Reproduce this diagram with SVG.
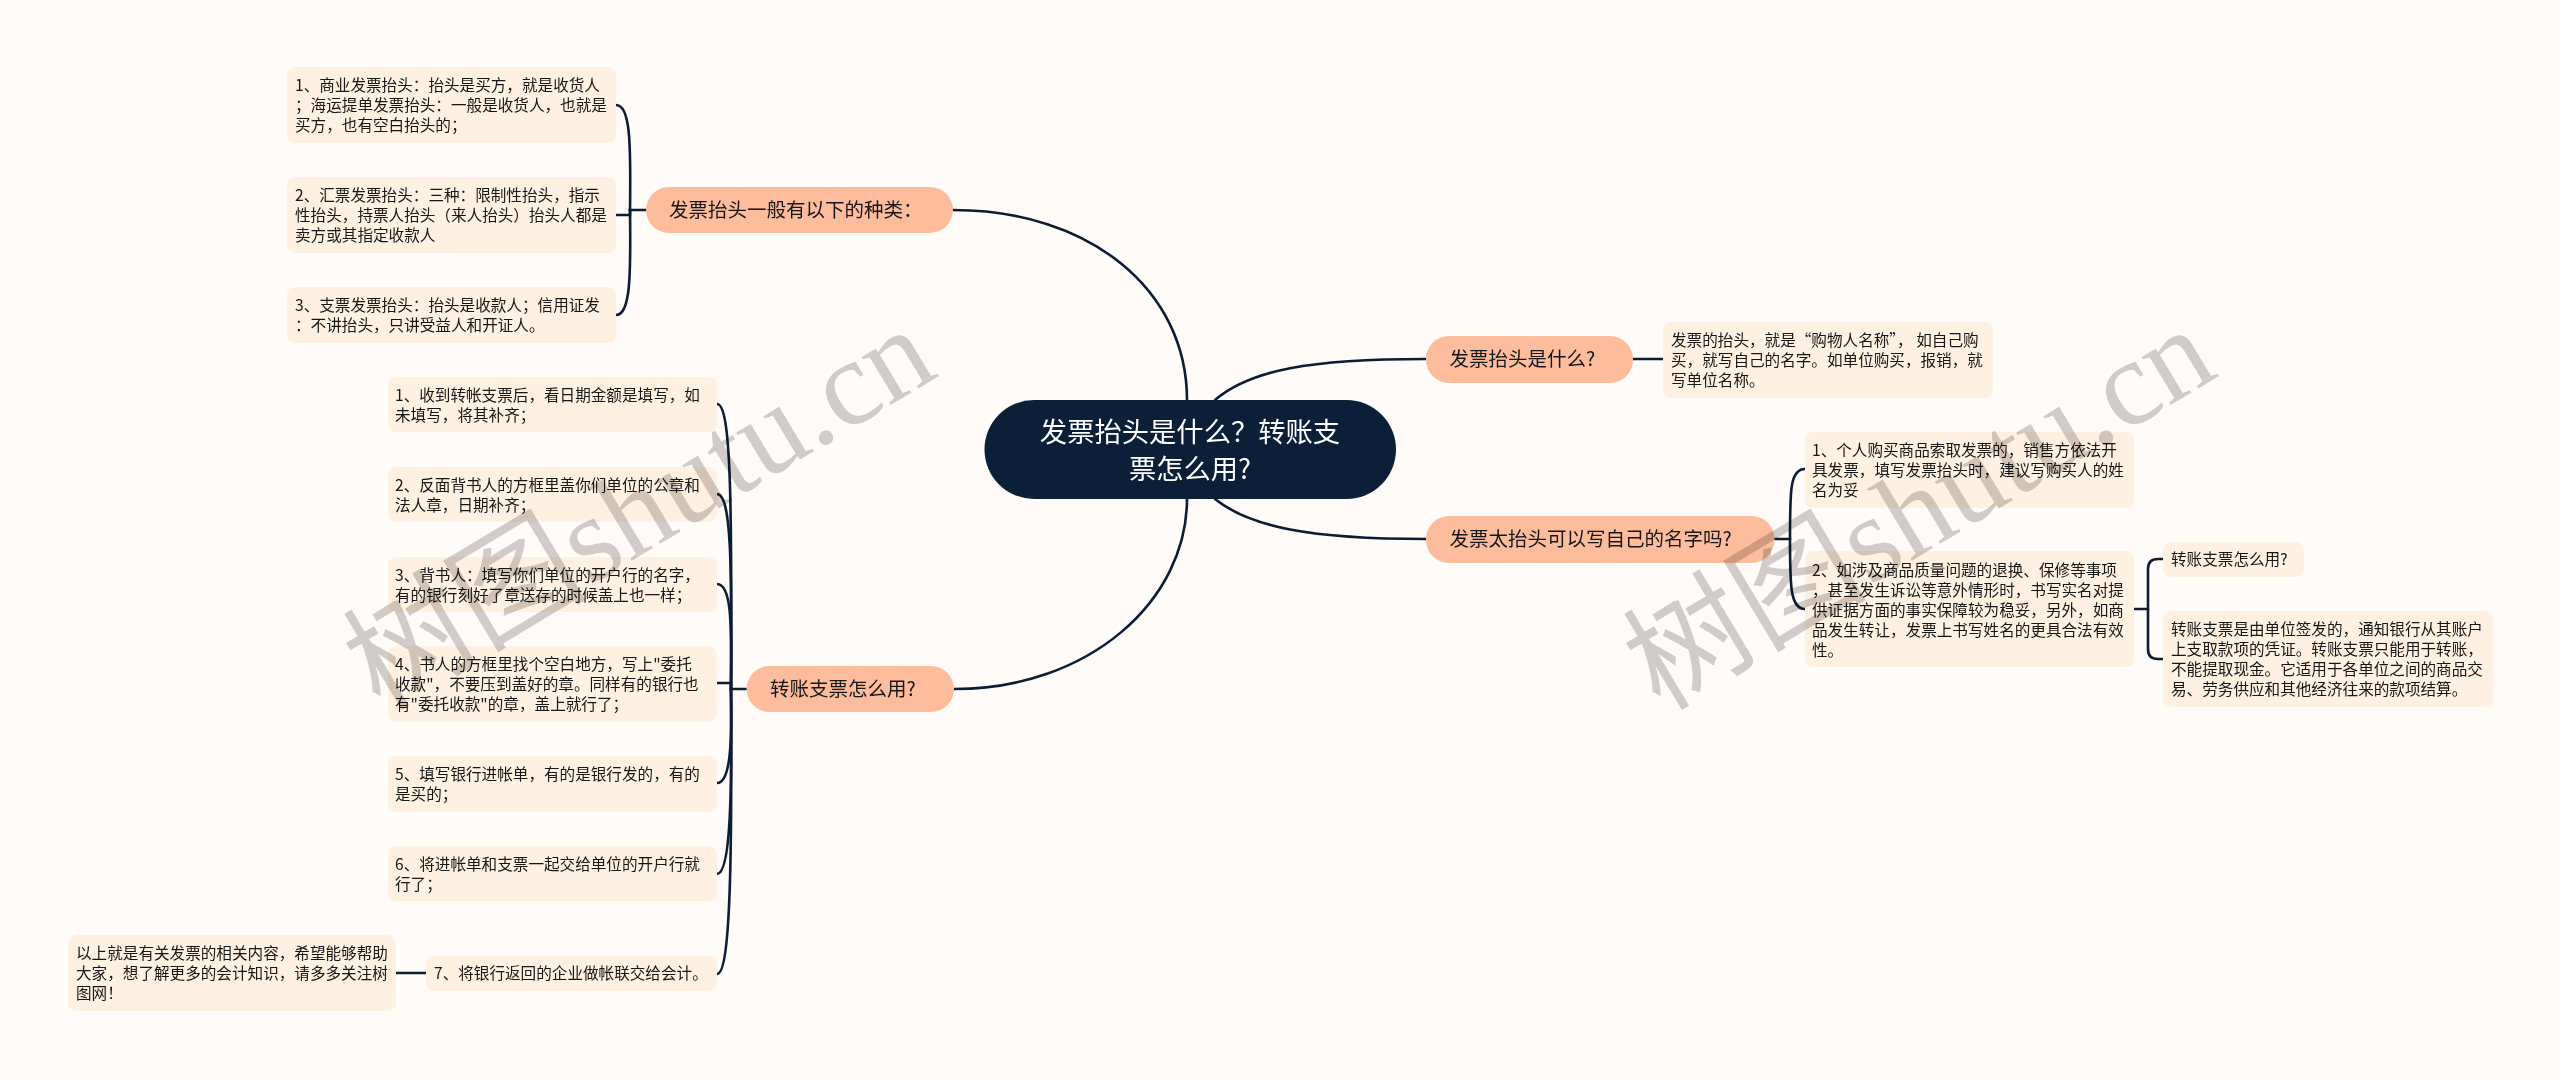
<svg xmlns="http://www.w3.org/2000/svg" width="2560" height="1079" viewBox="0 0 2560 1079">
<style>
text{font-family:"Noto Sans CJK SC","Noto Sans",sans-serif;}
.bg{fill:#fefbf9;}
.leaf rect{fill:#fef1e1;}
.leaf text{font-size:15.6px;fill:#161616;}
.branch rect{fill:#fdbd9c;}
.branch text{font-size:19.5px;fill:#161616;}
.root rect{fill:#0b2038;}
.root text{font-size:27.3px;fill:#fff;text-anchor:middle;}
#connectors path{fill:none;stroke:#0b1c33;stroke-width:2.6;stroke-linecap:round;}
.wm{font-family:"Liberation Serif","Noto Sans CJK SC",serif;font-size:122px;fill:#d2d0ce;mix-blend-mode:multiply;}
</style>
<rect class="bg" width="2560" height="1079"/>
<g id="connectors">
<path d="M1187 400C1187 290 1090 210 953 210"/>
<path d="M1187 499C1187 600 1090 689 954 689"/>
<path d="M1215 400C1250 370 1310 359 1426 359"/>
<path d="M1215 499C1250 527 1310 539 1426 539"/>
<path d="M1633 359H1663"/>
<path d="M646 210H630"/>
<path d="M630 210C631 140 630 105 616 105"/>
<path d="M630 210V215H616"/>
<path d="M630 210C631 280 630 315 616 315"/>
<path d="M746 689H731"/>
<path d="M731 689C732 500 731 404 717 404"/>
<path d="M731 689C732 560 731 494 717 494"/>
<path d="M731 689C732 620 731 584 717 584"/>
<path d="M731 689V683H717"/>
<path d="M731 689C732 740 731 783 717 783"/>
<path d="M731 689C732 790 731 874 717 874"/>
<path d="M731 689C732 850 731 974 717 974"/>
<path d="M426 973H396"/>
<path d="M1775 539H1790"/>
<path d="M1790 539C1790 490 1790 469 1805 469"/>
<path d="M1790 539C1790 585 1790 609 1805 609"/>
<path d="M2134 609H2148"/>
<path d="M2163 559H2158Q2148 559 2148 569V649Q2148 659 2158 659H2163"/>
</g>
<g id="root" class="root"><rect x="984.500" y="400" width="411.500" height="99" rx="49.500"/><text x="1190" y="442">发票抬头是什么？转账支</text><text x="1190" y="479">票怎么用?</text></g>
<g id="branch-a" class="branch"><rect x="646" y="187" width="307" height="46" rx="23"/><text x="669" y="217">发票抬头一般有以下的种类：</text></g>
<g id="branch-b" class="branch"><rect x="746.500" y="666" width="207.500" height="46" rx="23"/><text x="770" y="696">转账支票怎么用?</text></g>
<g id="branch-r1" class="branch"><rect x="1426" y="336" width="207" height="47" rx="23"/><text x="1449.500" y="366">发票抬头是什么?</text></g>
<g id="branch-r2" class="branch"><rect x="1426" y="516" width="348.500" height="47" rx="23"/><text x="1449.500" y="546">发票太抬头可以写自己的名字吗?</text></g>
<g id="a1" class="leaf"><rect x="287" y="67" width="329" height="76" rx="8"/><text x="295" y="91">1、商业发票抬头：抬头是买方，就是收货人</text><text x="295" y="111">；海运提单发票抬头：一般是收货人，也就是</text><text x="295" y="131">买方，也有空白抬头的；</text></g>
<g id="a2" class="leaf"><rect x="287" y="177" width="329" height="76" rx="8"/><text x="295" y="201">2、汇票发票抬头：三种：限制性抬头，指示</text><text x="295" y="221">性抬头，持票人抬头（来人抬头）抬头人都是</text><text x="295" y="241">卖方或其指定收款人</text></g>
<g id="a3" class="leaf"><rect x="287" y="287" width="329" height="56" rx="8"/><text x="295" y="311">3、支票发票抬头：抬头是收款人；信用证发</text><text x="295" y="331">：不讲抬头，只讲受益人和开证人。</text></g>
<g id="b1" class="leaf"><rect x="388" y="377" width="329" height="55" rx="8"/><text x="395" y="401">1、收到转帐支票后，看日期金额是填写，如</text><text x="395" y="421">未填写，将其补齐；</text></g>
<g id="b2" class="leaf"><rect x="388" y="467" width="329" height="55" rx="8"/><text x="395" y="491">2、反面背书人的方框里盖你们单位的公章和</text><text x="395" y="511">法人章，日期补齐；</text></g>
<g id="b3" class="leaf"><rect x="388" y="557" width="329" height="55" rx="8"/><text x="395" y="581">3、背书人：填写你们单位的开户行的名字，</text><text x="395" y="601">有的银行刻好了章送存的时候盖上也一样；</text></g>
<g id="b4" class="leaf"><rect x="388" y="646" width="329" height="76" rx="8"/><text x="395" y="670">4、书人的方框里找个空白地方，写上"委托</text><text x="395" y="690">收款"，不要压到盖好的章。同样有的银行也</text><text x="395" y="710">有"委托收款"的章，盖上就行了；</text></g>
<g id="b5" class="leaf"><rect x="388" y="756" width="329" height="56" rx="8"/><text x="395" y="780">5、填写银行进帐单，有的是银行发的，有的</text><text x="395" y="800">是买的；</text></g>
<g id="b6" class="leaf"><rect x="388" y="846" width="329" height="55" rx="8"/><text x="395" y="870">6、将进帐单和支票一起交给单位的开户行就</text><text x="395" y="890">行了；</text></g>
<g id="b7" class="leaf"><rect x="426" y="956" width="291" height="35" rx="8"/><text x="434" y="979">7、将银行返回的企业做帐联交给会计。</text></g>
<g id="c" class="leaf"><rect x="68" y="935" width="328" height="76" rx="8"/><text x="76" y="959">以上就是有关发票的相关内容，希望能够帮助</text><text x="76" y="979">大家，想了解更多的会计知识，请多多关注树</text><text x="76" y="999">图网！</text></g>
<g id="r1-leaf" class="leaf"><rect x="1663" y="322" width="330" height="76" rx="8"/><text x="1671" y="346">发票的抬头，就是“购物人名称”， 如自己购</text><text x="1671" y="366">买，就写自己的名字。如单位购买，报销，就</text><text x="1671" y="386">写单位名称。</text></g>
<g id="r21" class="leaf"><rect x="1805" y="432" width="329" height="76" rx="8"/><text x="1812" y="456">1、个人购买商品索取发票的，销售方依法开</text><text x="1812" y="476">具发票，填写发票抬头时，建议写购买人的姓</text><text x="1812" y="496">名为妥</text></g>
<g id="r22" class="leaf"><rect x="1805" y="551" width="329" height="116" rx="8"/><text x="1812" y="576">2、如涉及商品质量问题的退换、保修等事项</text><text x="1812" y="596">，甚至发生诉讼等意外情形时，书写实名对提</text><text x="1812" y="616">供证据方面的事实保障较为稳妥，另外，如商</text><text x="1812" y="636">品发生转让，发票上书写姓名的更具合法有效</text><text x="1812" y="656">性。</text></g>
<g id="r221" class="leaf"><rect x="2163" y="542" width="141" height="35" rx="8"/><text x="2171" y="565">转账支票怎么用?</text></g>
<g id="r222" class="leaf"><rect x="2163" y="611" width="330" height="96" rx="8"/><text x="2171" y="635">转账支票是由单位签发的，通知银行从其账户</text><text x="2171" y="655">上支取款项的凭证。转账支票只能用于转账，</text><text x="2171" y="675">不能提取现金。它适用于各单位之间的商品交</text><text x="2171" y="695">易、劳务供应和其他经济往来的款项结算。</text></g>
<text class="wm" transform="translate(380 712) rotate(-31)">树图shutu.cn</text>
<text class="wm" transform="translate(1660 712) rotate(-31)">树图shutu.cn</text>
</svg>
